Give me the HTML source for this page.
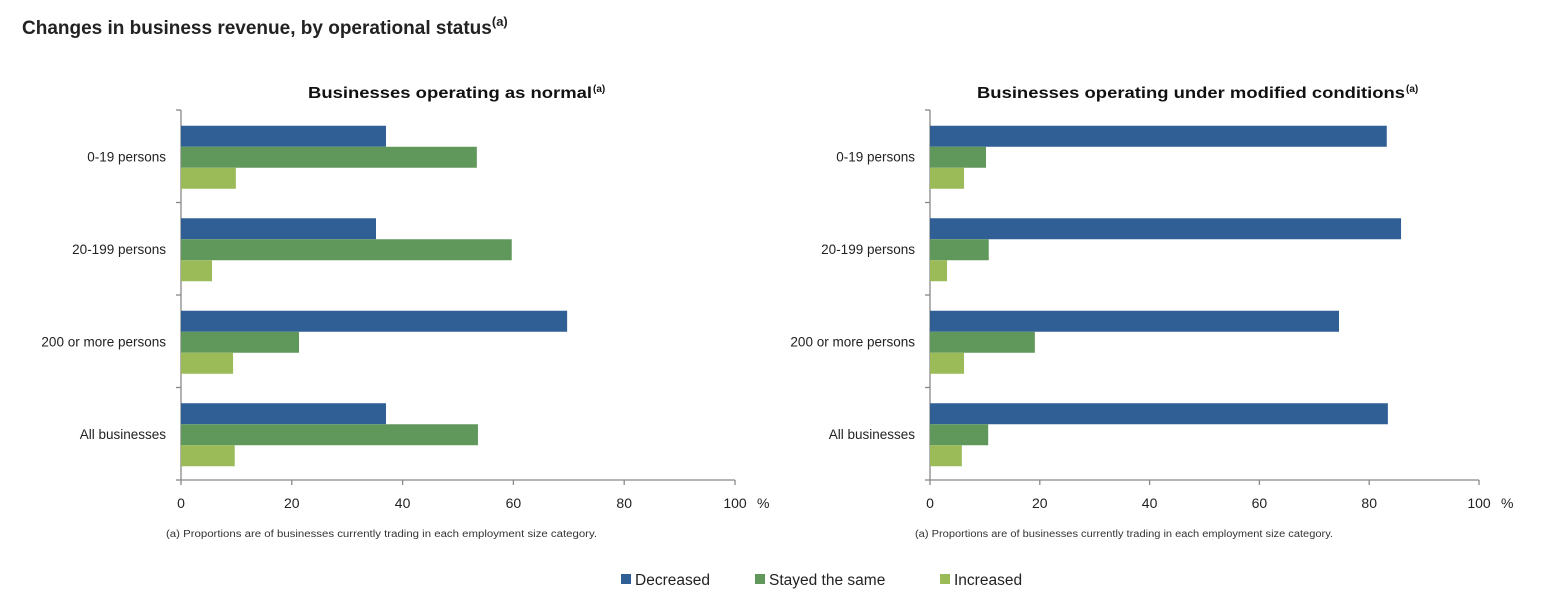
<!DOCTYPE html>
<html><head><meta charset="utf-8"><style>
body{margin:0;background:#fff;width:1547px;height:616px;overflow:hidden;font-family:"Liberation Sans",sans-serif}
svg{position:absolute;left:0;top:0}
</style></head><body>
<svg id="c" width="1547" height="616">
<text x="22" y="34" font-size="19" font-weight="bold" fill="#222">Changes in business revenue, by operational status<tspan dy="-8" font-size="13">(a)</tspan></text>
</svg>
<script>
const categories=["0-19 persons","20-199 persons","200 or more persons","All businesses"];
const normalDecreased=[37.0,35.2,69.7,37.0];
const normalSame=[53.4,59.7,21.3,53.6];
const normalIncreased=[9.9,5.6,9.4,9.7];
const modDecreased=[83.2,85.8,74.5,83.4];
const modSame=[10.2,10.7,19.1,10.6];
const modIncreased=[6.2,3.1,6.2,5.8];
const ticks=[0,20,40,60,80,100];
const seriesNames=["Decreased","Stayed the same","Increased"];
const colors=["#2F5F95","#60985C","#9BBB59"];
const svg=document.getElementById('c');
const NS="http://www.w3.org/2000/svg";
function mk(t,a,txt){const e=document.createElementNS(NS,t);for(const k in a)e.setAttribute(k,a[k]);if(txt!==undefined)e.textContent=txt;svg.appendChild(e);return e;}
function panel(x0,x1,title,tx,ttw,tw,series,key){
  const top=110,bot=480,step=(bot-top)/categories.length;
  const xs=v=>x0+(x1-x0)*v/100;
  let t=mk('text',{x:tx,y:98,'font-size':16,'font-weight':'bold','text-anchor':'start',fill:'#111',textLength:ttw,lengthAdjust:'spacingAndGlyphs'},title);
  
  
  const s=mk('text',{x:tx+ttw+1,y:92,'font-size':10,'font-weight':'bold',fill:'#111'},'(a)');
  
  let l=mk('line',{x1:x0,y1:top,x2:x0,y2:bot,stroke:'#888','stroke-width':1.3});
  
  l=mk('line',{x1:x0,y1:bot,x2:x1,y2:bot,stroke:'#888','stroke-width':1.3});
  
  for(let i=0;i<=categories.length;i++){mk('line',{x1:x0-5,y1:top+i*step,x2:x0,y2:top+i*step,stroke:'#888','stroke-width':1.3});}
  ticks.forEach(v=>{
    mk('line',{x1:xs(v),y1:bot,x2:xs(v),y2:bot+5,stroke:'#888','stroke-width':1.3});
    const e=mk('text',{x:xs(v),y:508,'font-size':14,'text-anchor':'middle',fill:'#222'},v);
    
    
  });
  const pc=mk('text',{x:x1+22,y:508,'font-size':14,'text-anchor':'start',fill:'#222'},'%');
  
  const bh=21;
  categories.forEach((c,i)=>{
    const cy=top+i*step+step/2;
    const lab=mk('text',{x:x0-15,y:cy+5,'font-size':13.5,'text-anchor':'end',fill:'#222'},c);
    
    
    series.forEach((s,j)=>{
      const r=mk('rect',{x:x0,y:cy-bh*1.5+j*bh+1,width:xs(s[i])-x0,height:bh,fill:colors[j]});
      
      
    });
  });
  const fn=mk('text',{x:x0-15,y:537,'font-size':10,fill:'#333',textLength:tw,lengthAdjust:'spacingAndGlyphs'},'(a) Proportions are of businesses currently trading in each employment size category.');
  
}
panel(181,735,'Businesses operating as normal',308,284,431,[normalDecreased,normalSame,normalIncreased],'normal');
panel(930,1479,'Businesses operating under modified conditions',977,428,418,[modDecreased,modSame,modIncreased],'modified');
const lx=[621,755,940];
seriesNames.forEach((n,i)=>{
  const r=mk('rect',{x:lx[i],y:574,width:10,height:10,fill:colors[i]});
  
  const t=mk('text',{x:lx[i]+14,y:585,'font-size':15.5,fill:'#222'},n);
  
});
</script>
</body></html>
